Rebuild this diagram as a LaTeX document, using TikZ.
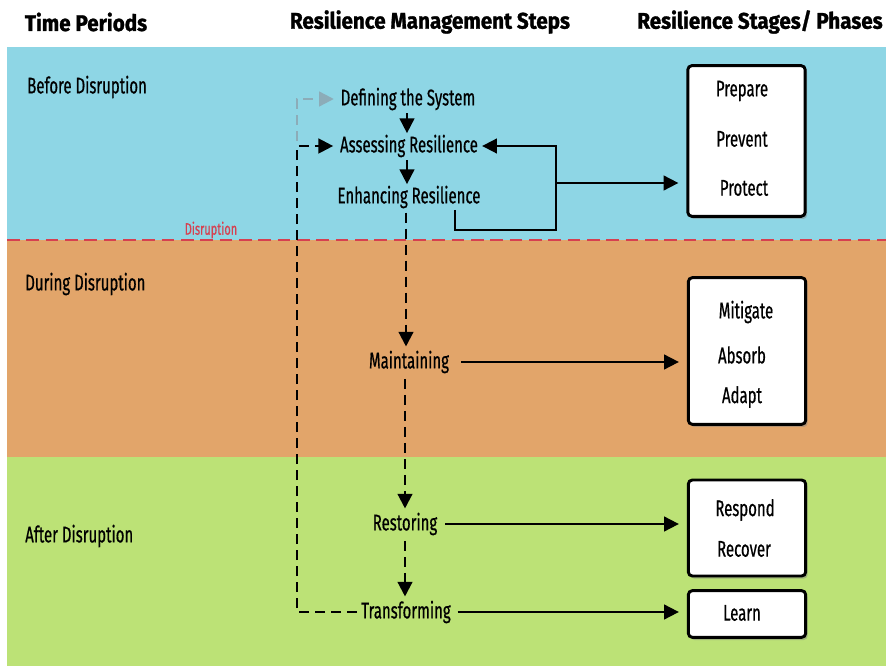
\documentclass[tikz,border=0pt]{standalone}
\usepackage{fontspec}
\setmainfont{Fira Sans}[FakeStretch=0.66, FakeBold=0.6]
\newfontfamily\hdrfont{Fira Sans}[FakeStretch=0.91, FakeBold=1.2]
\usetikzlibrary{arrows.meta,shadows}
\definecolor{bandblue}{RGB}{142,214,229}
\definecolor{bandorange}{RGB}{226,165,106}
\definecolor{bandgreen}{RGB}{188,226,118}
\definecolor{disred}{RGB}{214,64,80}
\definecolor{greyarr}{RGB}{140,172,184}
\begin{document}
\begin{tikzpicture}[x=0.75pt,y=-0.75pt,
  txt/.style={inner sep=0pt, font=\fontsize{17}{19}\selectfont},
  hdr/.style={inner sep=0pt, font=\hdrfont\bfseries\fontsize{17}{19}\selectfont},
  stagebox/.style={draw=black, line width=2.2pt, rounded corners=3pt, fill=white,
    drop shadow={shadow xshift=1.5pt, shadow yshift=-2pt, opacity=0.45},
    minimum width=88pt},
  tip/.style={-{Triangle[length=11pt,width=11pt]}},
  solidline/.style={line width=1.4pt},
  dashline/.style={line width=1.7pt, dash pattern=on 7.5pt off 4.5pt},
]
\useasboundingbox (0,0) rectangle (886,666);
% bands
\fill[white] (0,0) rectangle (886,666);
\fill[bandblue] (7,47) rectangle (886,240);
\fill[bandorange] (7,240) rectangle (886,457);
\fill[bandgreen] (7,457) rectangle (886,666);
\draw[disred, line width=1.5pt, dash pattern=on 9.5pt off 5pt] (7,240) -- (886,240);

% headers
\node[hdr] (h1) at (86,22) {Time Periods};
\node[hdr] (h2) at (430,22) {Resilience Management Steps};
\node[hdr] (h3) at (760,22) {Resilience Stages/ Phases};

% period labels
\node[txt, anchor=west] (p1) at (27,87) {Before Disruption};
\node[txt, anchor=west] (p2) at (25,284) {During Disruption};
\node[txt, anchor=west] (p3) at (25,536) {After Disruption};
\node[inner sep=0pt, text=disred, font=\fontsize{12.5}{14}\selectfont] (dis) at (211,230) {Disruption};

% steps
\node[txt] (def) at (408,99) {Defining the System};
\node[txt] (ass) at (409,146) {Assessing Resilience};
\node[txt] (enh) at (409,197) {Enhancing Resilience};
\node[txt] (main) at (409,362) {Maintaining};
\node[txt] (rest) at (405,524) {Restoring};
\node[txt] (trans) at (406,612) {Transforming};

% stage boxes
\node[stagebox, minimum height=113pt] (b1) at (746.5,141) {};
\node[stagebox, minimum height=110pt] (b2) at (747,351) {};
\node[stagebox, minimum height=72pt] (b3) at (747,528) {};
\node[stagebox, minimum height=35pt] (b4) at (747,614) {};
\node[txt] (s1) at (742,91) {Prepare};
\node[txt] (s2) at (742,139) {Prevent};
\node[txt] (s3) at (744,188) {Protect};
\node[txt] (s4) at (746,312) {Mitigate};
\node[txt] (s5) at (742,355) {Absorb};
\node[txt] (s6) at (742,397) {Adapt};
\node[txt] (s7) at (745,510) {Respond};
\node[txt] (s8) at (744,549) {Recover};
\node[txt] (s9) at (742,613) {Learn};

% vertical step arrows
\draw[solidline, tip, shorten <=2pt, shorten >=1pt] (def.south -| 407,0) -- (ass.north -| 407,0);
\draw[solidline, tip, shorten <=2pt, shorten >=1pt] (ass.south -| 407,0) -- (enh.north -| 407,0);
\draw[dashline, tip, shorten <=3pt, shorten >=3pt] (enh.south -| 406,0) -- (main.north -| 406,0);
\draw[dashline, tip, shorten <=4pt, shorten >=3pt] (main.south -| 405,0) -- (rest.north -| 405,0);
\draw[dashline, tip, shorten <=4pt, shorten >=3pt] (rest.south -| 405,0) -- (trans.north -| 405,0);

% feedback loop
\coordinate (lpA) at (455,210);
\coordinate (lpB) at (556,230);
\coordinate (lpC) at (556,183);
\draw[solidline, tip, shorten >=3pt] (lpA) |- (lpB) |- (ass.east);
\draw[solidline, tip, shorten >=6pt] (lpC) -- (lpC -| b1.west);

% horizontal arrows
\draw[solidline, tip, shorten <=9pt, shorten >=6pt] (main.east) -- (main.east -| b2.west);
\draw[solidline, tip, shorten <=6pt, shorten >=6pt] (rest.east) -- (rest.east -| b3.west);
\draw[solidline, tip, shorten <=5pt, shorten >=6pt] (trans.east) -- (trans.east -| b4.west);

% dashed return loop
\coordinate (dl) at (297,612);
\coordinate (dg) at (297,141);
\draw[dashline, tip, shorten <=3pt, shorten >=5pt] (trans.west) -- (dl) |- (ass.west);
\draw[greyarr, dashline, -{Triangle[length=11pt,width=11pt]}, shorten >=5pt] (dg) |- (def.west);
\end{tikzpicture}
\end{document}
